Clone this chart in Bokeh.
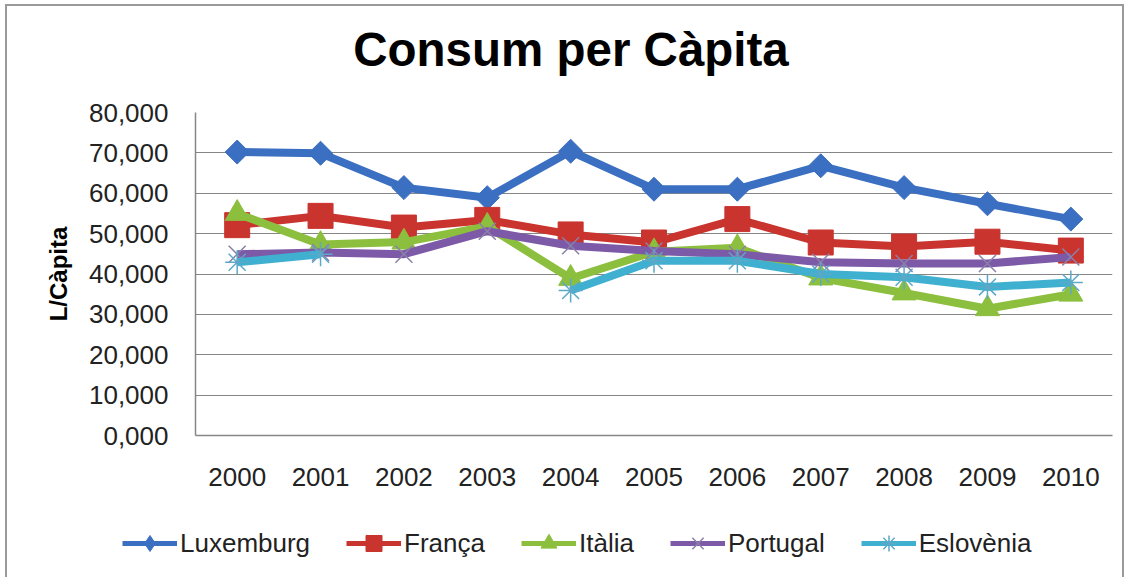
import math
from bokeh.plotting import figure
from bokeh.models import (Range1d, FixedTicker, Legend, LegendItem, ColumnDataSource, Label)
from bokeh.embed import file_html
from bokeh.resources import INLINE

# ---------------- data ----------------
years = [2000, 2001, 2002, 2003, 2004, 2005, 2006, 2007, 2008, 2009, 2010]
luxembourg = [70.2, 69.9, 61.4, 58.9, 70.4, 61.0, 61.0, 66.8, 61.4, 57.4, 53.6]
franca = [52.1, 54.4, 51.5, 53.4, 49.8, 47.8, 53.6, 47.8, 46.8, 48.0, 45.8]
italia = [55.0, 47.3, 47.9, 51.8, 38.9, 45.5, 46.5, 39.0, 35.3, 31.4, 35.0]
portugal = [44.9, 45.3, 44.9, 50.6, 47.0, 45.7, 44.9, 42.9, 42.6, 42.6, 44.2]
eslovenia = [42.9, 44.9, float("nan"), float("nan"), 35.9, 43.3, 43.3, 40.0, 39.2, 36.8, 37.9]

series_names = ["Luxemburg", "França", "Itàlia", "Portugal", "Eslovènia"]
y_ticks = [0, 10, 20, 30, 40, 50, 60, 70, 80]
y_tick_labels = ["0,000", "10,000", "20,000", "30,000", "40,000",
                 "50,000", "60,000", "70,000", "80,000"]
title_text = "Consum per Càpita"
y_label = "L/Càpita"

FONT = "Liberation Sans"
GRID = "#868686"
BORDER = "2px solid #9a9a9a"
W = 1119


def blank_fig(height, extra_styles):
    st = {"margin-left": "5px", "border-left": BORDER, "border-right": BORDER}
    st.update(extra_styles)
    f = figure(width=W, height=height, output_backend="svg", toolbar_location=None,
               title=None,
               x_range=Range1d(0, W), y_range=Range1d(0, height),
               x_axis_type=None, y_axis_type=None,
               min_border_left=0, min_border_right=0, min_border_top=0, min_border_bottom=0,
               styles=st)
    f.outline_line_color = None
    f.xgrid.grid_line_color = None
    f.ygrid.grid_line_color = None
    f.border_fill_color = "white"
    f.background_fill_color = "white"
    return f


# ---------------- title strip ----------------
tf = blank_fig(90, {"margin-top": "4px", "border-top": BORDER})
tf.add_layout(Label(x=563.5, y=47, text=title_text, text_align="center",
                    text_baseline="alphabetic", text_font=FONT, text_font_size="47.5px",
                    text_font_style="bold", text_color="black"))

# ---------------- chart ----------------
p = figure(width=W, height=407, output_backend="svg", toolbar_location=None, title=None,
           x_range=Range1d(1999.5, 2010.5), y_range=Range1d(0, 80),
           min_border_left=188, min_border_right=14,
           min_border_top=18, min_border_bottom=66,
           styles={"margin-left": "5px", "border-left": BORDER, "border-right": BORDER})
p.outline_line_color = None
p.background_fill_color = "white"
p.border_fill_color = "white"

p.xaxis.ticker = FixedTicker(ticks=years)
p.xaxis.major_label_overrides = {y: str(y) for y in years}
p.yaxis.ticker = FixedTicker(ticks=y_ticks)
p.yaxis.major_label_overrides = dict(zip(y_ticks, y_tick_labels))
for ax in (p.xaxis[0], p.yaxis[0]):
    ax.axis_line_color = GRID
    ax.axis_line_width = 1.5
    ax.major_tick_in = 0
    ax.major_tick_out = 0
    ax.minor_tick_in = 0
    ax.minor_tick_out = 0
    ax.major_label_text_font = FONT
    ax.major_label_text_font_size = "26px"
    ax.major_label_text_color = "#222222"
p.xaxis.major_label_standoff = 32
p.yaxis.major_label_standoff = 27
p.yaxis.axis_label = y_label
p.yaxis.axis_label_text_font = FONT
p.yaxis.axis_label_text_font_size = "24px"
p.yaxis.axis_label_text_font_style = "bold"
p.yaxis.axis_label_text_color = "black"
p.yaxis.axis_label_standoff = 14

p.xgrid.grid_line_color = None
p.ygrid.ticker = FixedTicker(ticks=y_ticks)
p.ygrid.grid_line_color = GRID
p.ygrid.grid_line_width = 1

# ---------------- legend strip ----------------
lf = blank_fig(76, {})

styles = [
    dict(color="#3B6FC1", marker="square", size=17, angle=math.pi / 4, fill=True, lw=1),
    dict(color="#C9342F", marker="square", size=25, angle=0, fill=True, lw=1),
    dict(color="#8CBF3E", marker="triangle", size=24, angle=0, fill=True, lw=1),
    dict(color="#7D5AA8", marker="x", size=24, angle=0, fill=False, lw=1.5, mcolor="#8A80A8"),
    dict(color="#3FB0CF", marker="asterisk", size=24, angle=0, fill=False, lw=1.5, mcolor="#5BA8C8"),
]
data = [luxembourg, franca, italia, portugal, eslovenia]

items = []
for name, vals, st in zip(series_names, data, styles):
    src = ColumnDataSource(dict(x=years, y=vals))
    p.line("x", "y", source=src, line_color=st["color"], line_width=8, line_join="round")
    mc = st.get("mcolor", st["color"])
    p.scatter("x", "y", source=src, marker=st["marker"], size=st["size"], angle=st["angle"],
              fill_color=st["color"] if st["fill"] else None,
              line_color=mc, line_width=st["lw"])
    # hidden copies in the legend strip, styled for the legend only
    lr = lf.line("x", "y", source=src, line_color=st["color"], line_width=5, visible=False)
    lm = "diamond" if st["marker"] == "square" and st["angle"] else st["marker"]
    sr = lf.scatter("x", "y", source=src, marker=lm, size=16,
                    fill_color=st["color"] if st["fill"] else None,
                    line_color=mc, line_width=st["lw"], visible=False)
    items.append(LegendItem(label=name, renderers=[lr, sr]))

legend = Legend(items=items, orientation="horizontal", location=(115, 14),
                glyph_width=55, glyph_height=40, label_standoff=3, spacing=36,
                padding=0, margin=0, border_line_color=None,
                background_fill_alpha=0, inactive_fill_alpha=0,
                label_text_font=FONT, label_text_font_size="26px",
                label_text_color="#222222", label_height=40)
lf.add_layout(legend, "center")

open("out.html", "w").write(file_html([tf, p, lf], INLINE))
